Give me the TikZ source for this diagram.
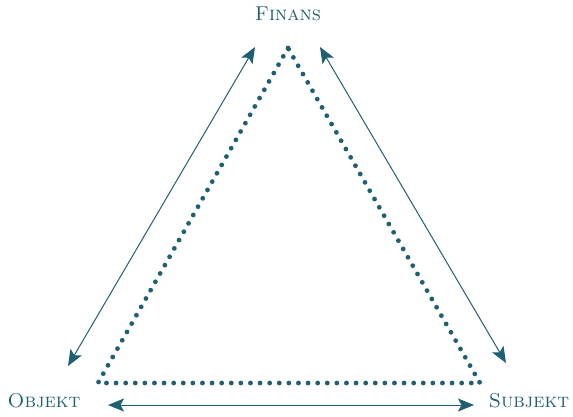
\documentclass[tikz,border=0pt]{standalone}
\usetikzlibrary{arrows.meta}
\definecolor{teal}{HTML}{1F5F73}
\begin{document}
\begin{tikzpicture}[x=1pt,y=-1pt,
  label/.style={text=teal,font=\fontsize{20}{22}\selectfont\scshape,inner sep=0pt},
  dots/.style={teal,line width=4.8pt,line cap=round,dash pattern=on 0pt off 9.6pt},
  tip/.tip={Stealth[length=16pt,width=13pt,inset=3.5pt]},
  rel/.style={teal,line width=1pt,tip-tip}]
  \useasboundingbox (0,0) rectangle (573,416);
  % corner labels
  \node[label] (fin) at (288,14) {Finans};
  \node[label] (obj) at (44,401) {Objekt};
  \node[label] (sub) at (529,401) {Subjekt};
  % triangle corners
  \coordinate (t) at (288,48);
  \coordinate (l) at (98,383);
  \coordinate (r) at (480,383);
  \draw[dots] (t) -- (l) -- (r) -- cycle;
  % arrow ends
  \coordinate (a1) at (68,366);
  \coordinate (a2) at (255,47);
  \coordinate (b1) at (320,47);
  \coordinate (b2) at (506,363);
  \coordinate (c1) at (108,405);
  \coordinate (c2) at (474,405);
  \draw[rel] (a1) -- (a2);
  \draw[rel] (b1) -- (b2);
  \draw[rel] (c1) -- (c2);
\end{tikzpicture}
\end{document}
